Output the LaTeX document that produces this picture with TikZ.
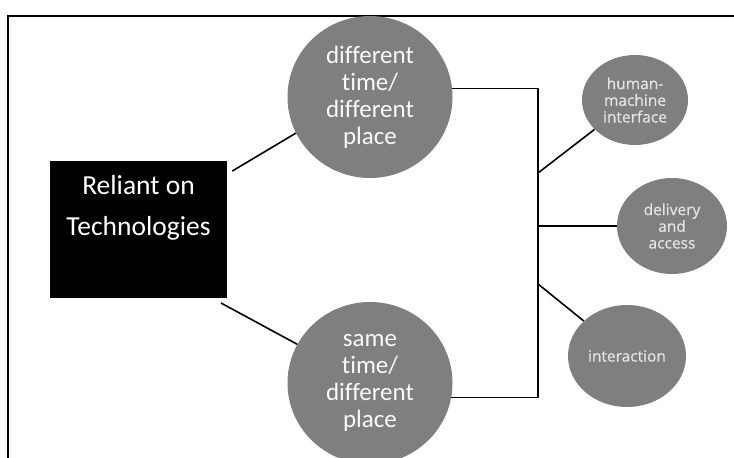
\documentclass[tikz,border=0pt]{standalone}
\usepackage{fontspec}
\setmainfont{Carlito}[Ligatures=NoCommon]
\newfontfamily\smallfont{Open Sans}[FakeBold=0.6]
\usepackage{tikz}
\usetikzlibrary{positioning, shapes.geometric}

\definecolor{circlegray}{HTML}{7F7F7F}
\definecolor{smalltext}{HTML}{E4E4E4}

\begin{document}
\begin{tikzpicture}[
    x=1pt, y=1pt,
    techbox/.style={
        fill=black,
        rectangle,
        minimum width=177pt,
        minimum height=137pt,
        inner sep=0pt
    },
    techtext/.style={
        text=white,
        align=center,
        inner sep=0pt,
        font=\fontsize{27.5}{41}\selectfont
    },
    bigcircle/.style={
        ellipse,
        fill=circlegray,
        text=white!95!gray,
        align=center,
        inner sep=0pt,
        minimum width=165pt,
        minimum height=162pt,
        font=\fontsize{25}{27}\selectfont
    },
    smallcircle/.style={
        ellipse,
        fill=circlegray,
        text=smalltext,
        align=center,
        inner sep=0pt,
        font=\smallfont\fontsize{15.5}{16.7}\selectfont
    },
    link/.style={line width=1.6pt, black}
]
\useasboundingbox (0,0) rectangle (734,458);

% Frame
\draw[line width=1.8pt] (8,0) -- (8,442) -- (734,442);

% Left
\node[techbox] (tech) at (138.5,228.5) {};
\node[techtext, below=14pt of tech.north] (techlabel) {Reliant on\\Technologies};

% Middle
\node[bigcircle] (dtdp) at (370,361) {different\\time/\\different\\place};
\node[bigcircle] (stdp) at (370,75) {same\\time/\\different\\place};

% Right
\node[smallcircle, minimum width=106pt, minimum height=90pt] (hmi) at (635,358) {human-\\machine\\interface};
\node[smallcircle, minimum width=110pt, minimum height=96pt] (dlv) at (672,232) {delivery\\and\\access};
\node[smallcircle, minimum width=118pt, minimum height=102pt] (intr) at (627,102) {interaction};

% Bus
\coordinate (bus) at (538,0);
\coordinate (b1) at (538,285);
\coordinate (b3) at (538,174);

% Links
\draw[link, shorten <=6pt] (tech.32) -- (dtdp.206);
\draw[link, shorten <=10pt] (tech.-43) -- (stdp.152);
\draw[link] (dtdp.6) -| (bus |- stdp.-10) -- (stdp.-10);
\draw[link] (b1) -- (hmi.216);
\draw[link] (bus |- dlv.west) -- (dlv.west);
\draw[link] (b3) -- (intr.141);

\end{tikzpicture}
\end{document}
